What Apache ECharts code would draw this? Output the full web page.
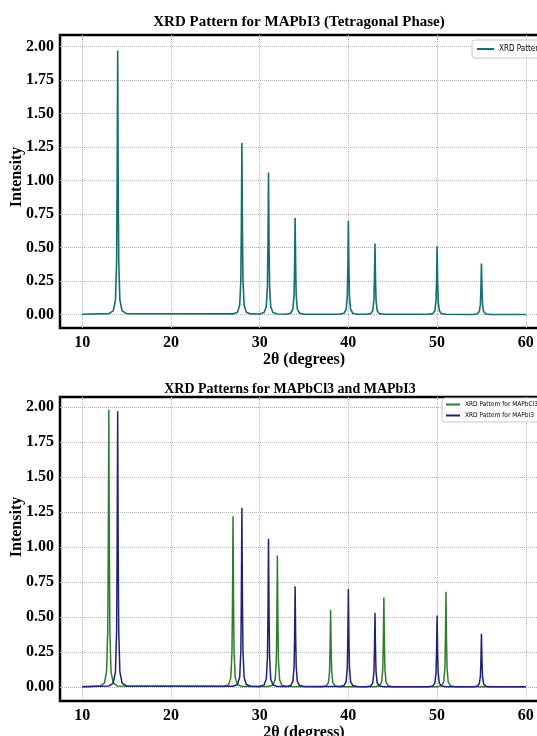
<!DOCTYPE html>
<html>
<head>
<meta charset="utf-8">
<script src="https://cdn.jsdelivr.net/npm/echarts@6/dist/echarts.min.js"></script>
<style>
  html, body { margin: 0; padding: 0; background: #fff; }
  #main { width: 537px; height: 736px; }
</style>
</head>
<body>
<div id="main"></div>
<script>
// tick positions
const xTicks = [10, 20, 30, 40, 50, 60];
const yTicks = [0, 0.25, 0.5, 0.75, 1, 1.25, 1.5, 1.75, 2];

// MAPbI3 pattern, [2theta, intensity]
const mapbi3Curve = [
  [10, 0.002],
  [13, 0.007], [13.5, 0.028], [13.75, 0.108], [13.88, 0.394], [13.94, 0.985], [14, 1.97], [14.06, 0.985], [14.12, 0.394], [14.25, 0.108], [14.5, 0.028], [15, 0.007],
  [27, 0.005], [27.5, 0.018], [27.75, 0.070], [27.88, 0.256], [27.94, 0.640], [28, 1.28], [28.06, 0.640], [28.12, 0.256], [28.25, 0.070], [28.5, 0.018], [29, 0.005],
  [30, 0.004], [30.5, 0.015], [30.75, 0.058], [30.88, 0.212], [30.94, 0.530], [31, 1.06], [31.06, 0.530], [31.12, 0.212], [31.25, 0.058], [31.5, 0.015], [32, 0.004],
  [33, 0.003], [33.5, 0.010], [33.75, 0.040], [33.88, 0.144], [33.94, 0.360], [34, 0.72], [34.06, 0.360], [34.12, 0.144], [34.25, 0.040], [34.5, 0.010], [35, 0.003],
  [39, 0.003], [39.5, 0.010], [39.75, 0.039], [39.88, 0.140], [39.94, 0.350], [40, 0.70], [40.06, 0.350], [40.12, 0.140], [40.25, 0.039], [40.5, 0.010], [41, 0.003],
  [42, 0.002], [42.5, 0.007], [42.75, 0.029], [42.88, 0.106], [42.94, 0.265], [43, 0.53], [43.06, 0.265], [43.12, 0.106], [43.25, 0.029], [43.5, 0.007], [44, 0.002],
  [49, 0.002], [49.5, 0.007], [49.75, 0.028], [49.88, 0.102], [49.94, 0.255], [50, 0.51], [50.06, 0.255], [50.12, 0.102], [50.25, 0.028], [50.5, 0.007], [51, 0.002],
  [54, 0.001], [54.5, 0.005], [54.75, 0.021], [54.88, 0.076], [54.94, 0.190], [55, 0.38], [55.06, 0.190], [55.12, 0.076], [55.25, 0.021], [55.5, 0.005], [56, 0.001],
  [60, 0.001]
];

// MAPbCl3 pattern
const mapbcl3Curve = [
  [10, 0.002],
  [12, 0.007], [12.5, 0.028], [12.75, 0.109], [12.88, 0.396], [12.94, 0.990], [13, 1.98], [13.06, 0.990], [13.12, 0.396], [13.25, 0.109], [13.5, 0.028], [14, 0.007],
  [26, 0.004], [26.5, 0.017], [26.75, 0.067], [26.88, 0.244], [26.94, 0.610], [27, 1.22], [27.06, 0.610], [27.12, 0.244], [27.25, 0.067], [27.5, 0.017], [28, 0.004],
  [31, 0.003], [31.5, 0.013], [31.75, 0.052], [31.88, 0.188], [31.94, 0.470], [32, 0.94], [32.06, 0.470], [32.12, 0.188], [32.25, 0.052], [32.5, 0.013], [33, 0.003],
  [37, 0.002], [37.5, 0.008], [37.75, 0.030], [37.88, 0.110], [37.94, 0.275], [38, 0.55], [38.06, 0.275], [38.12, 0.110], [38.25, 0.030], [38.5, 0.008], [39, 0.002],
  [43, 0.002], [43.5, 0.009], [43.75, 0.035], [43.88, 0.128], [43.94, 0.320], [44, 0.64], [44.06, 0.320], [44.12, 0.128], [44.25, 0.035], [44.5, 0.009], [45, 0.002],
  [50, 0.002], [50.5, 0.010], [50.75, 0.037], [50.88, 0.136], [50.94, 0.340], [51, 0.68], [51.06, 0.340], [51.12, 0.136], [51.25, 0.037], [51.5, 0.010], [52, 0.002],
  [60, 0.001]
];

var serif = '"Liberation Serif", "Times New Roman", serif';
var legendFont = '"DejaVu Sans Condensed", "DejaVu Sans", sans-serif';
var myChart = echarts.init(document.getElementById('main'), null, { renderer: 'canvas' });

function xAxisFor(gridIndex, name, gap) {
  return {
    type: 'value', gridIndex: gridIndex, min: 7.5, max: 62.5,
    name: name, nameLocation: 'middle', nameGap: gap,
    nameTextStyle: { fontFamily: serif, fontWeight: 'bold', fontSize: 16, color: '#000' },
    axisLine: { show: false },
    axisTick: { show: false, customValues: xTicks },
    axisLabel: { customValues: xTicks, margin: 7, fontFamily: serif, fontWeight: 'bold', fontSize: 16, color: '#000' },
    splitLine: { show: true, lineStyle: { color: '#b5b5b5', type: 'dotted', width: 1 } }
  };
}
function yAxisFor(gridIndex, max) {
  return {
    type: 'value', gridIndex: gridIndex, min: -0.1, max: max,
    axisLine: { show: false },
    axisTick: { show: false, customValues: yTicks },
    axisLabel: {
      customValues: yTicks, margin: 6, fontFamily: serif, fontWeight: 'bold', fontSize: 16, color: '#000',
      formatter: function (v) { return v.toFixed(2); }
    },
    splitLine: { show: true, lineStyle: { color: '#b5b5b5', type: 'dotted', width: 1 } }
  };
}

myChart.setOption({
  backgroundColor: '#fff',
  animation: false,
  grid: [
    { left: 60, top: 35, width: 488, height: 293, outerBoundsMode: 'none', show: true, borderColor: '#000', borderWidth: 2.5, backgroundColor: '#fff' },
    { left: 60, top: 397, width: 488, height: 304, outerBoundsMode: 'none', show: true, borderColor: '#000', borderWidth: 2.5, backgroundColor: '#fff' }
  ],
  xAxis: [xAxisFor(0, '2θ (degrees)', 21), xAxisFor(1, '2θ (degress)', 15)],
  yAxis: [yAxisFor(0, 2.085), yAxisFor(1, 2.072)],
  legend: [
    {
      data: ['XRD Pattern'], left: 472, top: 40, icon: 'rect', itemWidth: 17, itemHeight: 2, itemGap: 4,
      padding: [5, 5], borderColor: '#c8c8c8', borderWidth: 1, borderRadius: 3, backgroundColor: '#fff',
      textStyle: { fontFamily: legendFont, fontSize: 8, color: '#000' }
    },
    {
      data: ['XRD Pattern for MAPbCl3', 'XRD Pattern for MAPbI3'], orient: 'vertical', left: 442, top: 398,
      icon: 'rect', itemWidth: 14, itemHeight: 2, itemGap: 4,
      padding: [3, 4], borderColor: '#c8c8c8', borderWidth: 1, borderRadius: 3, backgroundColor: '#fff',
      textStyle: { fontFamily: legendFont, fontSize: 6.5, color: '#000' }
    }
  ],
  graphic: [
    { type: 'text', x: 299, y: 22, style: { text: 'XRD Pattern for MAPbI3 (Tetragonal Phase)', font: 'bold 15px ' + serif, fill: '#000', textAlign: 'center', textVerticalAlign: 'middle' } },
    { type: 'text', x: 290, y: 389, style: { text: 'XRD Patterns for MAPbCl3 and MAPbI3', font: 'bold 14px ' + serif, fill: '#000', textAlign: 'center', textVerticalAlign: 'middle' } },
    { type: 'text', x: 17, y: 177, rotation: Math.PI / 2, style: { text: 'Intensity', font: 'bold 16px ' + serif, fill: '#000', textAlign: 'center', textVerticalAlign: 'middle' } },
    { type: 'text', x: 17, y: 527, rotation: Math.PI / 2, style: { text: 'Intensity', font: 'bold 16px ' + serif, fill: '#000', textAlign: 'center', textVerticalAlign: 'middle' } }
  ],
  series: [
    {
      name: 'XRD Pattern', type: 'line', xAxisIndex: 0, yAxisIndex: 0,
      data: mapbi3Curve, symbol: 'none', color: '#137070',
      lineStyle: { width: 1.6, color: '#137070' }
    },
    {
      name: 'XRD Pattern for MAPbCl3', type: 'line', xAxisIndex: 1, yAxisIndex: 1,
      data: mapbcl3Curve, symbol: 'none', color: '#2d7d2d',
      lineStyle: { width: 1.5, color: '#2d7d2d' }
    },
    {
      name: 'XRD Pattern for MAPbI3', type: 'line', xAxisIndex: 1, yAxisIndex: 1,
      data: mapbi3Curve, symbol: 'none', color: '#20207a',
      lineStyle: { width: 1.5, color: '#20207a' }
    }
  ]
});
</script>
</body>
</html>
